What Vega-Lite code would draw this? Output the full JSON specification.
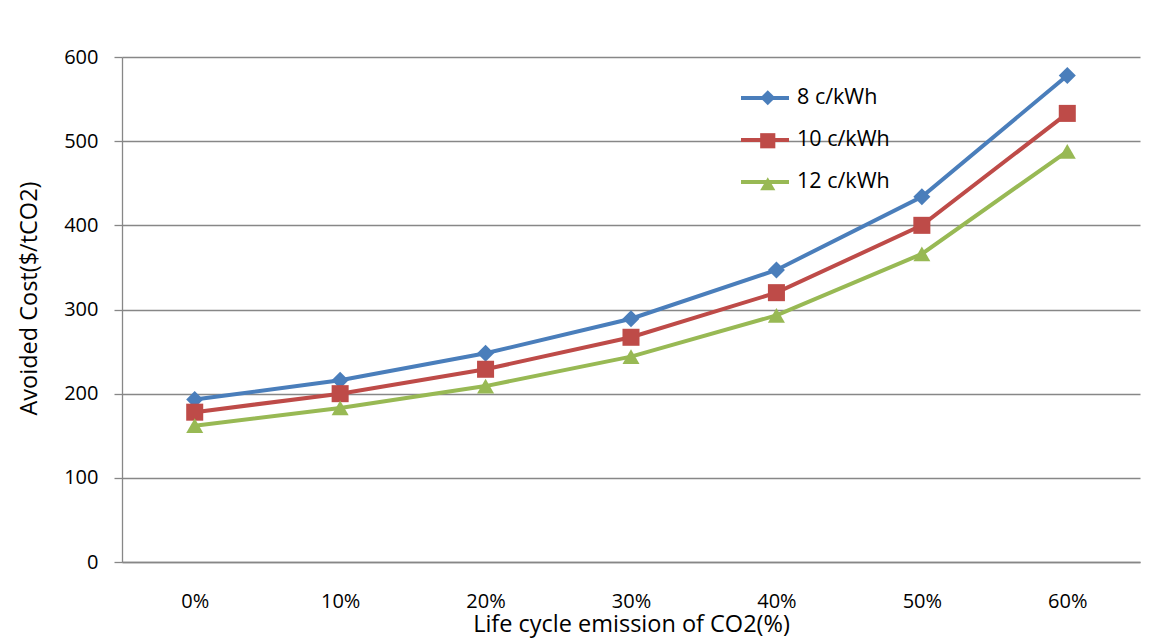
{
  "$schema": "https://vega.github.io/schema/vega-lite/v6.json",
  "width": 1018,
  "height": 505,
  "autosize": "none",
  "padding": {"left": 122, "top": 57, "right": 28, "bottom": 81},
  "background": "white",
  "config": {"view": {"stroke": null}, "font": "Open Sans"},
  "data": {"values": [
    {"emission": "0%", "price": "8 c/kWh", "cost": 193},
    {"emission": "10%", "price": "8 c/kWh", "cost": 216},
    {"emission": "20%", "price": "8 c/kWh", "cost": 248},
    {"emission": "30%", "price": "8 c/kWh", "cost": 289},
    {"emission": "40%", "price": "8 c/kWh", "cost": 347},
    {"emission": "50%", "price": "8 c/kWh", "cost": 434},
    {"emission": "60%", "price": "8 c/kWh", "cost": 578},
    {"emission": "0%", "price": "10 c/kWh", "cost": 178},
    {"emission": "10%", "price": "10 c/kWh", "cost": 200},
    {"emission": "20%", "price": "10 c/kWh", "cost": 229},
    {"emission": "30%", "price": "10 c/kWh", "cost": 267},
    {"emission": "40%", "price": "10 c/kWh", "cost": 320},
    {"emission": "50%", "price": "10 c/kWh", "cost": 400},
    {"emission": "60%", "price": "10 c/kWh", "cost": 533},
    {"emission": "0%", "price": "12 c/kWh", "cost": 162},
    {"emission": "10%", "price": "12 c/kWh", "cost": 183},
    {"emission": "20%", "price": "12 c/kWh", "cost": 209},
    {"emission": "30%", "price": "12 c/kWh", "cost": 244},
    {"emission": "40%", "price": "12 c/kWh", "cost": 293},
    {"emission": "50%", "price": "12 c/kWh", "cost": 366},
    {"emission": "60%", "price": "12 c/kWh", "cost": 488}
  ]},
  "encoding": {
    "x": {
      "field": "emission", "type": "ordinal",
      "sort": ["0%", "10%", "20%", "30%", "40%", "50%", "60%"],
      "scale": {"type": "point", "padding": 0.5},
      "axis": {
        "title": "Life cycle emission of CO2(%)",
        "titleFontSize": 23.5, "titleFontWeight": "normal", "titleColor": "#000000", "titlePadding": 1,
        "labelFontSize": 20, "labelColor": "#000000", "labelPadding": 29, "labelAngle": 0,
        "ticks": false, "tickSize": 0,
        "domainColor": "#878787", "domainWidth": 1.3, "grid": false
      }
    },
    "y": {
      "field": "cost", "type": "quantitative",
      "scale": {"domain": [0, 600], "nice": false},
      "axis": {
        "title": "Avoided Cost($/tCO2)",
        "titleFontSize": 23.5, "titleFontWeight": "normal", "titleColor": "#000000",
        "titleX": -93, "titleY": 241, "titleBaseline": "middle",
        "values": [0, 100, 200, 300, 400, 500, 600],
        "labelFontSize": 20, "labelColor": "#000000", "labelPadding": 16,
        "tickSize": 8, "tickColor": "#878787", "tickWidth": 1.3,
        "domainColor": "#878787", "domainWidth": 1.3,
        "gridColor": "#878787", "gridWidth": 1.3
      }
    }
  },
  "layer": [
    {
      "mark": {"type": "line", "strokeWidth": 4},
      "encoding": {
        "stroke": {
          "field": "price", "type": "nominal",
          "scale": {"domain": ["8 c/kWh", "10 c/kWh", "12 c/kWh"], "range": ["#4A7EBB", "#BE4B48", "#98B954"]},
          "legend": {
            "title": null, "orient": "none", "legendX": 617, "legendY": 15,
            "symbolType": "stroke", "symbolSize": 2304, "symbolStrokeWidth": 4,
            "labelFontSize": 21.5, "labelColor": "#000000", "labelOffset": 6, "rowPadding": 5
          }
        }
      }
    },
    {
      "mark": {"type": "point", "filled": true, "opacity": 1, "size": 290},
      "encoding": {
        "fill": {
          "field": "price", "type": "nominal",
          "scale": {"domain": ["8 c/kWh", "10 c/kWh", "12 c/kWh"], "range": ["#4A7EBB", "#BE4B48", "#98B954"]},
          "legend": {
            "title": null, "orient": "none", "legendX": 635, "legendY": 30,
            "symbolSize": 230, "symbolStrokeWidth": 0, "symbolOpacity": 1,
            "labelFontSize": 21.5, "labelExpr": "''", "rowPadding": 20
          }
        },
        "shape": {
          "field": "price", "type": "nominal",
          "scale": {"domain": ["8 c/kWh", "10 c/kWh", "12 c/kWh"], "range": ["diamond", "square", "triangle-up"]},
          "legend": {
            "title": null, "orient": "none", "legendX": 635, "legendY": 30,
            "symbolSize": 230, "symbolStrokeWidth": 0, "symbolOpacity": 1,
            "labelFontSize": 21.5, "labelExpr": "''", "rowPadding": 20
          }
        }
      }
    }
  ],
  "resolve": {"legend": {"stroke": "independent"}}
}
